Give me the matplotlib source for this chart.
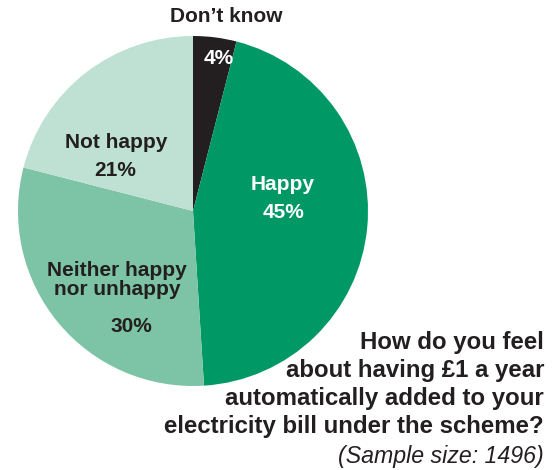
import matplotlib.pyplot as plt

plt.rcParams['font.family'] = ['Liberation Sans', 'DejaVu Sans']

# survey answers, clockwise from 12 o'clock
answers = ["Don\u2019t know", "Happy", "Neither happy\nnor unhappy", "Not happy"]
shares = [4, 45, 30, 21]
colours = ['#231f20', '#009966', '#7cc4a5', '#bfe1d3']

W, H = 556, 470
fig = plt.figure(figsize=(W / 100, H / 100), dpi=100)

# pie centre at (193, 211) px, radius 175 px
cx, cy, r = 193, 211, 175
ax = fig.add_axes([(cx - r) / W, (H - cy - r) / H, 2 * r / W, 2 * r / H])
ax.pie(shares, colors=colours, startangle=90, counterclock=False,
       wedgeprops=dict(linewidth=0))
ax.set_xlim(-1, 1)
ax.set_ylim(-1, 1)
ax.set_aspect('equal')
ax.axis('off')

dark = '#231f20'


def put(x, y, s, **kw):
    opts = dict(ha='center', va='center', fontsize=15, fontweight='bold', color=dark)
    opts.update(kw)
    fig.text(x / W, 1 - y / H, s, **opts)


put(226, 17, answers[0])
put(219, 58, f"{shares[0]}%", color='white')
put(116, 142, answers[3])
put(115, 170, f"{shares[3]}%")
put(283, 185, answers[1], color='white')
put(283, 212, f"{shares[1]}%", color='white')
put(117, 280, answers[2], linespacing=1.0)
put(131, 327, f"{shares[2]}%")

question = ["How do you feel",
            "about having \u00a31 a year",
            "automatically added to your",
            "electricity bill under the scheme?"]
for i, line in enumerate(question):
    put(544, 342 + i * 28.3, line, ha='right', fontsize=17.3)
put(544, 457, "(Sample size: 1496)", ha='right', fontsize=16.7,
    fontweight='normal', fontstyle='italic')

fig.savefig('out.png', dpi=100)
